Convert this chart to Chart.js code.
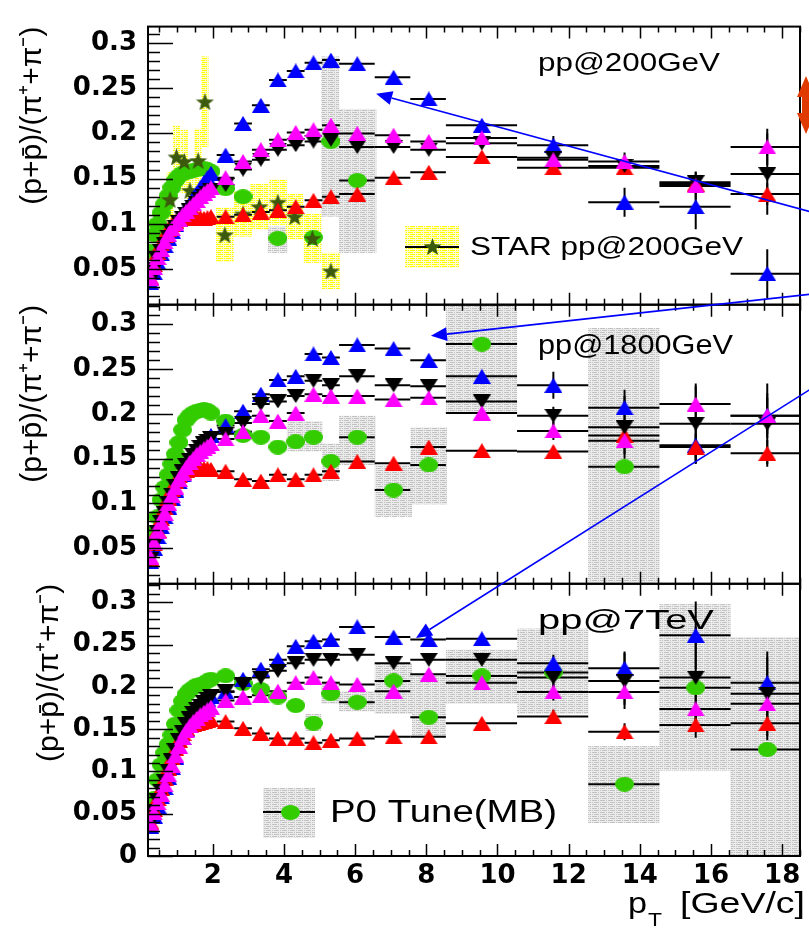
<!DOCTYPE html>
<html><head><meta charset="utf-8">
<script src="https://cdn.jsdelivr.net/npm/chart.js@4.4.0/dist/chart.umd.min.js"></script>
<style>html,body{margin:0;padding:0;background:#fff;}canvas{display:block}</style>
</head><body>
<canvas id="c" width="809" height="930"></canvas>
<script>
// ---------------- DATA ----------------
const xLow  = [0.25,0.35,0.45,0.55,0.65,0.75,0.85,0.95,1.05,1.15,1.25,1.35,1.45,1.55,1.65,1.75,1.85,1.95];
const xMid  = [2.36,2.85,3.35,3.83,4.33,4.83,5.32];
const xHigh = [6.06,7.08,8.07,9.56,11.57,13.57,15.57,17.58];
const binLo = [5.55,6.55,7.55,8.55,10.55,12.55,14.55,16.55];
const binHi = [6.55,7.55,8.55,10.55,12.55,14.55,16.55,18.55];
const xTickValues = [2,4,6,8,10,12,14,16,18];
const yTickValuesTop = [0.05,0.1,0.15,0.2,0.25,0.3];
const yTickValuesBot = [0,0.05,0.1,0.15,0.2,0.25,0.3];
const panelLabels = ['pp@200GeV','pp@1800GeV','pp@7TeV'];
const yTitle = '(p+p\u0304)/(\u03c0\u207a+\u03c0\u207b)';
const legendStar = 'STAR pp@200GeV';
const legendP0 = 'P0 Tune(MB)';

// pp@200GeV (low | mid | high)
const top_magenta = [0.040,0.052,0.063,0.072,0.080,0.088,0.095,0.100,0.105,0.110,0.114,0.118,0.122,0.126,0.130,0.134,0.137,0.140, 0.151,0.169,0.182,0.193,0.201,0.204,0.209, 0.200,0.198,0.191,0.195,0.171,0.169,0.142,0.185];
const top_black   = [0.038,0.050,0.061,0.070,0.078,0.086,0.092,0.097,0.102,0.107,0.111,0.115,0.119,0.123,0.127,0.131,0.134,0.137, 0.143,0.160,0.171,0.182,0.187,0.191,0.193, 0.185,0.185,0.182,0.189,0.173,0.164,0.146,0.155];
const top_red     = [0.040,0.055,0.068,0.078,0.087,0.094,0.099,0.103,0.105,0.106,0.107,0.106,0.107,0.108,0.107,0.106,0.107,0.108, 0.108,0.110,0.113,0.115,0.119,0.126,0.130, 0.133,0.151,0.157,0.174,0.162,0.162,0.144,0.133];
const top_blue    = [0.035,0.046,0.057,0.067,0.076,0.084,0.092,0.099,0.105,0.111,0.117,0.122,0.128,0.134,0.140,0.146,0.151,0.156, 0.176,0.211,0.231,0.259,0.269,0.278,0.281, 0.277,0.262,0.238,0.209,0.187,0.124,0.119,0.045];
const top_green   = [0.070,0.088,0.100,0.112,0.122,0.131,0.140,0.148,0.153,0.156,0.157,0.158,0.159,0.160,0.161,0.161,0.160,0.158, 0.139,0.130,null,0.084,null,0.085,0.191, 0.148,null,null,null,null,null,null,null];
const top_err_magenta = [0,0,0,0.004,0.006,0.010,0.015,0.020];
const top_err_black   = [0,0,0,0.004,0.006,0.010,0.012,0.045];
const top_err_red     = [0,0,0,0.004,0.005,0.008,0.010,0.012];
const top_err_blue    = [0,0,0,0.005,0.010,0.016,0.025,0.027];
const top_green_sys = [[3.55,4.10,0.068,0.097],[4.58,5.05,0.060,0.110],[5.05,5.55,0.108,0.285],[5.55,6.60,0.068,0.227]];
const star_x   = [0.80,0.98,1.20,1.36,1.59,1.78,2.34,2.85,3.31,3.83,4.30,4.80,5.32];
const star_y   = [0.127,0.174,0.169,0.137,0.170,0.235,0.088,0.111,0.119,0.124,0.108,0.084,0.048];
const star_sys = [0.030,0.035,0.035,0.030,0.035,0.050,0.030,0.025,0.025,0.025,0.025,0.027,0.020];
const star_halfw = [0.1,0.1,0.1,0.1,0.1,0.1,0.25,0.25,0.25,0.25,0.25,0.25,0.25];

// pp@1800GeV
const mid_magenta = [0.040,0.056,0.069,0.079,0.089,0.100,0.109,0.118,0.127,0.134,0.140,0.146,0.150,0.155,0.158,0.161,0.164,0.167, 0.172,0.180,0.198,0.192,0.201,0.222,0.220, 0.220,0.216,0.218,0.201,0.181,0.170,0.211,0.198];
const mid_black   = [0.038,0.054,0.068,0.079,0.089,0.100,0.110,0.119,0.128,0.136,0.143,0.149,0.154,0.159,0.163,0.167,0.170,0.173, 0.178,0.190,0.211,0.214,0.220,0.237,0.232, 0.242,0.232,0.231,0.214,0.198,0.185,0.189,0.189];
const mid_red     = [0.038,0.055,0.070,0.083,0.095,0.106,0.116,0.124,0.131,0.135,0.137,0.138,0.138,0.138,0.139,0.139,0.139,0.138, 0.136,0.127,0.125,0.132,0.127,0.132,0.136, 0.147,0.145,0.163,0.159,0.158,0.176,0.163,0.156];
const mid_blue    = [0.035,0.050,0.063,0.074,0.085,0.096,0.106,0.115,0.124,0.132,0.139,0.146,0.152,0.158,0.163,0.168,0.172,0.176, 0.187,0.203,0.222,0.238,0.242,0.267,0.263, 0.277,0.273,0.260,0.242,0.232,0.207,0.165,0.198];
const mid_green   = [0.055,0.068,0.085,0.104,0.118,0.132,0.144,0.155,0.168,0.182,0.193,0.198,0.201,0.203,0.204,0.205,0.204,0.201, 0.192,0.176,0.174,0.163,0.169,0.174,0.147, 0.174,0.115,0.143,0.278,null,0.141,null,null];
const mid_err_magenta = [0,0,0,0.005,0.010,0.015,0.020,0.025];
const mid_err_black   = [0,0,0,0.005,0.010,0.035,0.045,0.045];
const mid_err_red     = [0,0,0,0.004,0.006,0.010,0.015,0.015];
const mid_err_blue    = [0,0,0,0.005,0.015,0.020,0.020,0.020];
const mid_green_sys = [[4.08,4.58,0.158,0.192],[4.58,5.08,0.158,0.192],[5.08,5.55,0.125,0.167],[5.55,6.58,0.143,0.198],[6.55,7.60,0.085,0.143],[7.56,8.58,0.099,0.185],[8.55,10.55,0.200,0.330],[12.55,14.55,0.012,0.296]];

// pp@7TeV
const bot_magenta = [0.038,0.051,0.063,0.073,0.084,0.096,0.107,0.119,0.130,0.140,0.148,0.154,0.159,0.163,0.167,0.170,0.173,0.176, 0.184,0.188,0.190,0.195,0.205,0.211,0.205, 0.203,0.195,0.215,0.205,0.194,0.194,0.174,0.180];
const bot_black   = [0.040,0.053,0.066,0.077,0.089,0.101,0.113,0.125,0.137,0.147,0.156,0.163,0.169,0.174,0.178,0.182,0.186,0.189, 0.195,0.203,0.211,0.219,0.228,0.232,0.232, 0.238,0.228,0.232,0.232,0.211,0.207,0.211,0.192];
const bot_red     = [0.040,0.055,0.068,0.080,0.092,0.104,0.116,0.127,0.137,0.145,0.151,0.154,0.156,0.157,0.158,0.159,0.160,0.161, 0.159,0.151,0.145,0.139,0.139,0.134,0.137, 0.139,0.141,0.141,0.157,0.165,0.147,0.155,0.157];
const bot_blue    = [0.035,0.047,0.059,0.070,0.081,0.093,0.105,0.117,0.129,0.140,0.150,0.158,0.165,0.171,0.176,0.181,0.185,0.189, 0.194,0.209,0.221,0.232,0.248,0.254,0.256, 0.271,0.259,0.256,0.257,0.228,0.222,0.261,0.205];
const bot_green   = [0.052,0.068,0.090,0.108,0.122,0.132,0.143,0.156,0.172,0.183,0.191,0.196,0.199,0.202,0.203,0.204,0.207,0.209, 0.213,0.204,0.197,0.188,0.178,0.157,0.192, 0.182,0.207,0.164,0.213,0.217,0.085,0.199,0.126];
const bot_err_magenta = [0,0,0,0.004,0.010,0.015,0.020,0.025];
const bot_err_black   = [0,0,0,0.004,0.020,0.033,0.060,0.050];
const bot_err_red     = [0,0,0,0.003,0.008,0.010,0.015,0.020];
const bot_err_blue    = [0,0,0,0.004,0.010,0.020,0.040,0.030];
const bot_green_sys = [[4.60,5.05,0.148,0.168],[5.05,5.55,0.180,0.207],[5.55,6.55,0.171,0.195],[6.55,7.60,0.168,0.228],[7.60,8.55,0.142,0.215],[8.55,10.55,0.180,0.244],[10.55,12.55,0.168,0.269],[12.55,14.55,0.039,0.130],[14.55,16.55,0.101,0.298],[16.55,18.55,0.000,0.259]];

// blue annotation arrows: [panel, tipX, tipY, tailX, tailY] in data units of that panel
const arrows = [['yTop',6.59,0.2437,19.2,0.109],['yMid',8.13,0.2872,19.2,0.3355],['yBot',7.71,0.2578,19.2,0.563]];

// ---------------- HELPERS ----------------
const C = {blue:'#0000ff', magenta:'#ff00ff', red:'#ff0000', black:'#000000', green:'#33cc00', star:'#3b5a0c'};
function marker(kind, color, w, h){
  const c=document.createElement('canvas'); c.width=w; c.height=h;
  const g=c.getContext('2d'); g.fillStyle=color; g.beginPath();
  if(kind==='up'){g.moveTo(0,h);g.lineTo(w/2,0);g.lineTo(w,h);}
  else if(kind==='down'){g.moveTo(0,0);g.lineTo(w,0);g.lineTo(w/2,h);}
  else if(kind==='circle'){g.ellipse(w/2,h/2,w/2,h/2,0,0,Math.PI*2);}
  else if(kind==='star'){
    for(let k=0;k<10;k++){const r=k%2===0?1:0.42;const a=-Math.PI/2+k*Math.PI/5;
      g.lineTo(w/2+r*Math.cos(a)*w/2, h*0.55+r*Math.sin(a)*h*0.55);}
  }
  g.closePath(); g.fill();
  return c;
}
const M = {
  magenta: marker('up',C.magenta,18,15), black: marker('down',C.black,18,14),
  red: marker('up',C.red,18,15), blue: marker('up',C.blue,18,15),
  green: marker('circle',C.green,19,15), star: marker('star',C.star,19,17)
};
function pattern(bg, fg){
  const c=document.createElement('canvas'); c.width=8; c.height=4;
  const g=c.getContext('2d'); g.fillStyle=bg; g.fillRect(0,0,8,4);
  g.fillStyle=fg; g.fillRect(0,0,5,1); g.fillRect(6,0,1,1); g.fillRect(2,2,5,1); g.fillRect(0,2,1,1);
  return document.getElementById('c').getContext('2d').createPattern(c,'repeat');
}
const greyPat = pattern('#ececec','#c2c2c2');
const yellowPat = pattern('#ffffd0','#ffff00');

const allX = xLow.concat(xMid, xHigh);
const allLo = xLow.map(x=>x-0.05).concat(xMid.map(x=>x-0.25), binLo);
const allHi = xLow.map(x=>x+0.05).concat(xMid.map(x=>x+0.25), binHi);
function series(axis, ys, errHigh, img, label){
  return {label, yAxisID:axis, xAxisID:'x',
    data: allX.map((x,i)=>({x, y: ys[i]})),
    pointStyle: img, pointRadius: 8, pointHoverRadius: 8,
    xlo: allLo, xhi: allHi,
    yerr: xLow.map(()=>0).concat(xMid.map(()=>0), errHigh || xHigh.map(()=>0))};
}
const datasets = [
  series('yTop', top_magenta, top_err_magenta, M.magenta, 'top magenta'),
  series('yTop', top_black, top_err_black, M.black, 'top black'),
  series('yTop', top_red, top_err_red, M.red, 'top red'),
  series('yTop', top_blue, top_err_blue, M.blue, 'top blue'),
  {label:legendStar, yAxisID:'yTop', xAxisID:'x', data: star_x.map((x,i)=>({x, y: star_y[i]})), pointStyle:M.star, pointRadius:8, xlo:[], xhi:[], yerr:[]},
  series('yTop', top_green, null, M.green, 'top green'),
  series('yMid', mid_magenta, mid_err_magenta, M.magenta, 'mid magenta'),
  series('yMid', mid_black, mid_err_black, M.black, 'mid black'),
  series('yMid', mid_red, mid_err_red, M.red, 'mid red'),
  series('yMid', mid_blue, mid_err_blue, M.blue, 'mid blue'),
  series('yMid', mid_green, null, M.green, 'mid green'),
  series('yBot', bot_magenta, bot_err_magenta, M.magenta, 'bot magenta'),
  series('yBot', bot_black, bot_err_black, M.black, 'bot black'),
  series('yBot', bot_red, bot_err_red, M.red, 'bot red'),
  series('yBot', bot_blue, bot_err_blue, M.blue, 'bot blue'),
  series('yBot', bot_green, null, M.green, legendP0)
];
const panels = [
  {id:'yTop', label:panelLabels[0], sys:top_green_sys},
  {id:'yMid', label:panelLabels[1], sys:mid_green_sys},
  {id:'yBot', label:panelLabels[2], sys:bot_green_sys}
];

function stretchText(ctx, text, x, y, font, targetW){
  ctx.save(); ctx.font=font; const w=ctx.measureText(text).width;
  ctx.translate(x,y); ctx.scale(targetW/w,1); ctx.fillText(text,0,0); ctx.restore();
}

const deco = {
  id:'deco',
  beforeDatasetsDraw(chart){
    const ctx=chart.ctx, xs=chart.scales.x;
    panels.forEach(p=>{
      const ys=chart.scales[p.id];
      ctx.save(); ctx.beginPath(); ctx.rect(xs.left, ys.top, xs.right-xs.left, ys.bottom-ys.top); ctx.clip();
      ctx.fillStyle=greyPat;
      p.sys.forEach(b=>{
        const x0=xs.getPixelForValue(b[0]), x1=xs.getPixelForValue(b[1]);
        const y0=ys.getPixelForValue(b[3]), y1=ys.getPixelForValue(b[2]);
        ctx.fillRect(x0,y0,x1-x0,y1-y0);
      });
      if(p.id==='yTop'){
        ctx.fillStyle=yellowPat;
        star_x.forEach((x,i)=>{
          const x0=xs.getPixelForValue(x-star_halfw[i]), x1=xs.getPixelForValue(x+star_halfw[i]);
          const y0=ys.getPixelForValue(star_y[i]+star_sys[i]), y1=ys.getPixelForValue(star_y[i]-star_sys[i]);
          ctx.fillRect(x0,y0,x1-x0,y1-y0);
        });
      }
      ctx.restore();
    });
    chart.data.datasets.forEach((ds,i)=>{
      const meta=chart.getDatasetMeta(i), ys=meta.yScale;
      ctx.save(); ctx.beginPath(); ctx.rect(xs.left, ys.top, xs.right-xs.left, ys.bottom-ys.top); ctx.clip();
      ctx.strokeStyle='#000'; ctx.lineWidth=2;
      ds.data.forEach((pt,j)=>{
        if(pt.y==null) return;
        const py=ys.getPixelForValue(pt.y), px=xs.getPixelForValue(pt.x);
        if(ds.xlo[j]!==undefined && pt.x>2){
          ctx.beginPath(); ctx.moveTo(xs.getPixelForValue(ds.xlo[j]),py); ctx.lineTo(xs.getPixelForValue(ds.xhi[j]),py); ctx.stroke();
        }
        if(ds.yerr[j]){
          ctx.beginPath(); ctx.moveTo(px,ys.getPixelForValue(pt.y-ds.yerr[j])); ctx.lineTo(px,ys.getPixelForValue(pt.y+ds.yerr[j])); ctx.stroke();
        }
      });
      ctx.restore();
    });
  },
  afterDatasetsDraw(chart){
    const ctx=chart.ctx, xs=chart.scales.x;
    ctx.save();
    ctx.strokeStyle='#000'; ctx.fillStyle='#000';
    panels.forEach((p,k)=>{
      const ys=chart.scales[p.id];
      ctx.lineWidth=2;
      ctx.strokeRect(xs.left, ys.top, xs.right-xs.left, ys.bottom-ys.top);
      ctx.lineWidth=1.5;
      for(let v=0.5; v<=xs.max+1e-9; v+=0.5){
        const px=Math.round(xs.getPixelForValue(v))+0.5;
        const len=(Math.abs(v%2)<1e-9)?12:6;
        ctx.beginPath(); ctx.moveTo(px,ys.bottom); ctx.lineTo(px,ys.bottom-len);
        ctx.moveTo(px,ys.top); ctx.lineTo(px,ys.top+len); ctx.stroke();
      }
      for(let n=Math.ceil(ys.min*100-1e-6); n<=Math.floor(ys.max*100+1e-6); n++){
        const py=Math.round(ys.getPixelForValue(n/100))+0.5;
        const len=(n%5===0)?25:12;
        ctx.beginPath(); ctx.moveTo(xs.left,py); ctx.lineTo(xs.left+len,py); ctx.stroke();
      }
    });
    ctx.fillStyle='#000'; ctx.textBaseline='alphabetic';
    const yT=chart.scales.yTop, yM=chart.scales.yMid, yB=chart.scales.yBot;
    stretchText(ctx, panelLabels[0], 538, yT.top+44, '25px "Liberation Sans"', 182);
    stretchText(ctx, panelLabels[1], 538, yM.top+49, '27px "Liberation Sans"', 195);
    stretchText(ctx, panelLabels[2], 538, yB.top+45, '28px "Liberation Sans"', 176);
    // STAR legend
    ctx.fillStyle=yellowPat; ctx.fillRect(405,226,54,42);
    ctx.strokeStyle='#000'; ctx.lineWidth=2; ctx.beginPath(); ctx.moveTo(405,247); ctx.lineTo(459,247); ctx.stroke();
    ctx.drawImage(M.star, 432-9, 247-9);
    ctx.fillStyle='#000';
    stretchText(ctx, legendStar, 470, 255, '25px "Liberation Sans"', 273);
    // P0 legend
    ctx.fillStyle=greyPat; ctx.fillRect(263,788,52,50);
    ctx.beginPath(); ctx.moveTo(263,812); ctx.lineTo(315,812); ctx.stroke();
    ctx.drawImage(M.green, 290-9, 812-7);
    ctx.fillStyle='#000';
    stretchText(ctx, legendP0, 330, 822, '31px "Liberation Sans"', 227);
    // x title p_T [GeV/c]
    stretchText(ctx, 'p', 628, 913, '30px "Liberation Sans"', 19);
    stretchText(ctx, 'T', 648, 926, '19px "Liberation Sans"', 14);
    stretchText(ctx, '[GeV/c]', 680, 913, '30px "Liberation Sans"', 125);
    // blue arrows
    ctx.strokeStyle='#0000ff'; ctx.fillStyle='#0000ff'; ctx.lineWidth=1.6;
    arrows.forEach(a=>{
      const ys=chart.scales[a[0]];
      const tx=xs.getPixelForValue(a[1]), ty=ys.getPixelForValue(a[2]);
      const sx=xs.getPixelForValue(a[3]), sy=ys.getPixelForValue(a[4]);
      const ang=Math.atan2(ty-sy, tx-sx), L=16, W=7;
      const bx=tx-L*Math.cos(ang), by=ty-L*Math.sin(ang);
      ctx.beginPath(); ctx.moveTo(sx,sy); ctx.lineTo(bx,by); ctx.stroke();
      ctx.beginPath(); ctx.moveTo(tx,ty);
      ctx.lineTo(bx+W*Math.sin(ang), by-W*Math.cos(ang));
      ctx.lineTo(bx-W*Math.sin(ang), by+W*Math.cos(ang)); ctx.closePath(); ctx.fill();
    });
    // orange double arrow at right edge
    ctx.fillStyle='#e03a00';
    ctx.beginPath();
    const ox=806;
    [[ox,76],[ox+9,97],[ox+4,97],[ox+4,113],[ox+9,113],[ox,134],[ox-9,113],[ox-4,113],[ox-4,97],[ox-9,97]].forEach((q,i)=>i?ctx.lineTo(q[0],q[1]):ctx.moveTo(q[0],q[1]));
    ctx.closePath(); ctx.fill();
    ctx.restore();
  }
};

const tickFont = {family:'"DejaVu Sans"', size:26, weight:'bold'};
function yScale(min, max, weight, ticks, titlePad){
  return {type:'linear', position:'left', stack:'panels', stackWeight:weight, min, max,
    grid:{display:false, drawTicks:false}, border:{display:false},
    ticks:{font:tickFont, color:'#000', padding:11, autoSkip:false, callback:v=>String(+(+v).toFixed(3))},
    afterBuildTicks:s=>{s.ticks=ticks.map(v=>({value:v}));},
    afterFit:s=>{s.width=148;},
    title:{display:true, text:yTitle, align:'end', color:'#000', font:{family:'"Liberation Sans"', size:30}, padding:{top:titlePad, bottom:0}}
  };
}

new Chart(document.getElementById('c'), {
  type:'scatter',
  data:{datasets},
  options:{
    responsive:false, animation:false, devicePixelRatio:1,
    layout:{padding:{top:9, right:5, left:0, bottom:0}},
    plugins:{legend:{display:false}, tooltip:{enabled:false}},
    scales:{
      x:{type:'linear', position:'bottom', min:0.18, max:18.5,
        grid:{display:false, drawTicks:false}, border:{display:false},
        ticks:{font:tickFont, color:'#000', padding:5, autoSkip:false, maxRotation:0},
        afterBuildTicks:s=>{s.ticks=xTickValues.map(v=>({value:v}));},
        afterFit:s=>{s.height=74;}},
      yBot: yScale(0, 0.322, 278, yTickValuesBot, 32),
      yMid: yScale(0.0103, 0.322, 285, yTickValuesTop, 15),
      yTop: yScale(0.0107, 0.318, 284, yTickValuesTop, 15)
    }
  },
  plugins:[deco]
});
</script>
</body></html>
